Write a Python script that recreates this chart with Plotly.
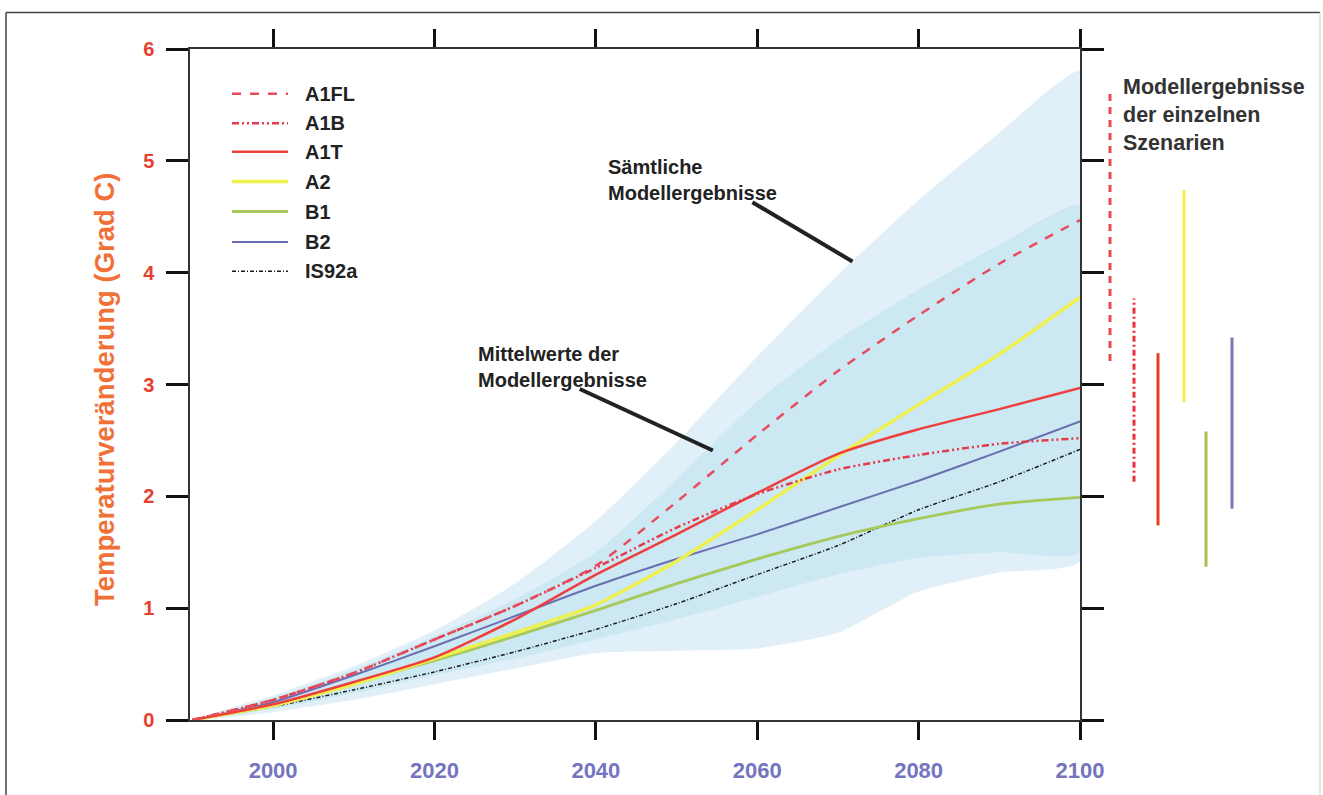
import plotly.graph_objects as go

# ---------------------------------------------------------------- data
years = [1990, 2000, 2010, 2020, 2030, 2040, 2050, 2060, 2070, 2080, 2090, 2100]

a1fl = [0, 0.18, 0.42, 0.72, 1.02, 1.38, 1.95, 2.55, 3.12, 3.62, 4.08, 4.47]
a1b = [0, 0.18, 0.42, 0.72, 1.02, 1.36, 1.72, 2.02, 2.24, 2.37, 2.47, 2.52]
a1t = [0, 0.14, 0.34, 0.56, 0.90, 1.30, 1.66, 2.03, 2.38, 2.60, 2.78, 2.97]
a2 = [0, 0.13, 0.32, 0.55, 0.78, 1.03, 1.42, 1.88, 2.36, 2.82, 3.27, 3.78]
b1 = [0, 0.13, 0.33, 0.53, 0.75, 0.98, 1.22, 1.44, 1.64, 1.80, 1.93, 1.99]
b2 = [0, 0.16, 0.40, 0.66, 0.93, 1.20, 1.44, 1.66, 1.90, 2.14, 2.40, 2.67]
is92a = [0, 0.12, 0.27, 0.43, 0.61, 0.81, 1.04, 1.30, 1.56, 1.88, 2.13, 2.42]

# envelope of all model results and of the model means
all_upper = [0, 0.22, 0.48, 0.80, 1.22, 1.78, 2.48, 3.25, 3.98, 4.65, 5.25, 5.80]
all_lower = [0, 0.07, 0.18, 0.32, 0.46, 0.60, 0.62, 0.64, 0.78, 1.15, 1.32, 1.42]
mean_upper = [0, 0.20, 0.45, 0.75, 1.08, 1.50, 2.15, 2.85, 3.40, 3.85, 4.25, 4.60]
mean_lower = [0, 0.10, 0.24, 0.40, 0.55, 0.72, 0.90, 1.10, 1.30, 1.45, 1.50, 1.50]

# 2100 ranges per scenario (low, high)
range_names = ["A1FL", "A1B", "A1T", "A2", "B1", "B2"]
range_low = [3.21, 2.13, 1.74, 2.84, 1.37, 1.89]
range_high = [5.62, 3.77, 3.28, 4.74, 2.58, 3.42]

series_names = ["A1FL", "A1B", "A1T", "A2", "B1", "B2", "IS92a"]
series_values = [a1fl, a1b, a1t, a2, b1, b2, is92a]

y_ticks = [0, 1, 2, 3, 4, 5, 6]
x_ticks = [2000, 2020, 2040, 2060, 2080, 2100]

# ---------------------------------------------------------------- styles
styles = {
    "A1FL": dict(color="#e94b5e", width=2.5, dash="9px,9px"),
    "A1B": dict(color="#e33b4a", width=2.5, dash="7px,3px,2px,3px,2px,3px"),
    "A1T": dict(color="#ef3e3e", width=2.5, dash="solid"),
    "A2": dict(color="#eef050", width=3.5, dash="solid"),
    "B1": dict(color="#a6c95a", width=2.8, dash="solid"),
    "B2": dict(color="#6a6eb0", width=2.0, dash="solid"),
    "IS92a": dict(color="#1a1a1a", width=1.5, dash="4px,2px,1px,2px"),
}
bar_styles = {
    "A1FL": dict(color="#e84a50", width=3, dash="7px,6px"),
    "A1B": dict(color="#e8343f", width=3, dash="6px,3px,2px,3px"),
    "A1T": dict(color="#e8401e", width=3, dash="solid"),
    "A2": dict(color="#f5f04a", width=3, dash="solid"),
    "B1": dict(color="#a8c050", width=3, dash="solid"),
    "B2": dict(color="#7a76b8", width=3, dash="solid"),
}
bar_slots = [10, 34, 58, 84, 106, 132]

W, H = 1323, 795
ML, MR, MT, MB = 190, 63, 49, 73
PW, PH = W - ML - MR, H - MT - MB


def px(xp):
    return (xp - ML) / PW


def py(yp):
    return (H - MB - yp) / PH


FONT = "Liberation Sans, Arial, Helvetica, sans-serif"

fig = go.Figure()

# shaded envelopes
fig.add_trace(go.Scatter(
    x=years + years[::-1], y=all_upper + all_lower[::-1],
    fill="toself", fillcolor="#e1f0f8", line=dict(width=0, shape="spline", smoothing=0.5),
    mode="lines", hoverinfo="skip", showlegend=False))
fig.add_trace(go.Scatter(
    x=years + years[::-1], y=mean_upper + mean_lower[::-1],
    fill="toself", fillcolor="#cce8f2", line=dict(width=0, shape="spline", smoothing=0.5),
    mode="lines", hoverinfo="skip", showlegend=False))

# scenario curves
draw_order = ["IS92a", "B1", "B2", "A2", "A1T", "A1B", "A1FL"]
for name in draw_order:
    vals = series_values[series_names.index(name)]
    st = styles[name]
    fig.add_trace(go.Scatter(
        x=years, y=vals, mode="lines", name=name,
        line=dict(color=st["color"], width=st["width"], dash=st["dash"],
                  shape="spline", smoothing=0.6),
        showlegend=False))

# 2100 range bars beside the plot
for i, name in enumerate(range_names):
    st = bar_styles[name]
    fig.add_trace(go.Scatter(
        x=[bar_slots[i], bar_slots[i]], y=[range_low[i], range_high[i]],
        xaxis="x2", yaxis="y", mode="lines",
        line=dict(color=st["color"], width=st["width"], dash=st["dash"]),
        showlegend=False, hoverinfo="skip"))

shapes = []
annotations = []

# legend drawn by hand
legend_rows = [94, 123.5, 152, 182, 212, 242.5, 272]
for name, yr in zip(series_names, legend_rows):
    st = styles[name]
    shapes.append(dict(type="line", xref="paper", yref="paper",
                       x0=px(232), x1=px(288), y0=py(yr), y1=py(yr),
                       line=dict(color=st["color"], width=st["width"], dash=st["dash"])))
    annotations.append(dict(text=name, xref="paper", yref="paper",
                            x=px(303), y=py(yr), xanchor="left", yanchor="middle",
                            showarrow=False,
                            font=dict(family=FONT, size=20, color="#222222", weight="bold")))

# pointer lines for the annotations
shapes.append(dict(type="line", xref="x", yref="y", x0=2059.4, y0=4.63, x1=2071.8, y1=4.10,
                   line=dict(color="#222222", width=4)))
shapes.append(dict(type="line", xref="x", yref="y", x0=2038.0, y0=2.96, x1=2054.5, y1=2.41,
                   line=dict(color="#222222", width=4)))

annotations.append(dict(text="Sämtliche<br>Modellergebnisse", xref="x", yref="y",
                        x=2041.3, y=4.83, xanchor="left", yanchor="middle", align="left",
                        showarrow=False,
                        font=dict(family=FONT, size=20, color="#222222", weight="bold")))
annotations.append(dict(text="Mittelwerte der<br>Modellergebnisse", xref="x", yref="y",
                        x=2025.2, y=3.16, xanchor="left", yanchor="middle", align="left",
                        showarrow=False,
                        font=dict(family=FONT, size=20, color="#222222", weight="bold")))
annotations.append(dict(text="Modellergebnisse<br>der einzelnen<br>Szenarien",
                        xref="paper", yref="paper", x=px(1121), y=py(115),
                        xanchor="left", yanchor="middle", align="left", showarrow=False,
                        font=dict(family=FONT, size=21.5, color="#333333", weight="bold")))

# y-axis title
annotations.append(dict(text="Temperaturveränderung (Grad C)", xref="paper", yref="paper",
                        x=px(105), y=py(391), textangle=-90, showarrow=False,
                        xanchor="center", yanchor="middle",
                        font=dict(family=FONT, size=27.5, color="#f07038", weight="bold")))

# outer frame
shapes.append(dict(type="line", xref="paper", yref="paper",
                   x0=px(6), x1=px(6), y0=py(12.5), y1=py(800),
                   line=dict(color="#444444", width=1.5)))
shapes.append(dict(type="line", xref="paper", yref="paper",
                   x0=px(6), x1=px(1320), y0=py(12.5), y1=py(12.5),
                   line=dict(color="#444444", width=1.5)))
shapes.append(dict(type="line", xref="paper", yref="paper",
                   x0=px(1320), x1=px(1320), y0=py(12.5), y1=py(800),
                   line=dict(color="#d0d0d0", width=1)))

fig.update_layout(
    width=W, height=H,
    margin=dict(l=ML, r=MR, t=MT, b=MB, pad=0),
    paper_bgcolor="white", plot_bgcolor="white",
    showlegend=False,
    shapes=shapes, annotations=annotations,
    xaxis=dict(domain=[0, px(1080)], range=[1989.7, 2100], tickvals=x_ticks,
               ticks="outside", ticklen=18, tickwidth=3, tickcolor="#111111",
               showline=True, linecolor="#333333", linewidth=1.5, mirror="ticks",
               showgrid=False, zeroline=False, ticklabelstandoff=12,
               tickfont=dict(family=FONT, size=22, color="#7474c0", weight="bold")),
    xaxis2=dict(domain=[px(1100), px(1250)], range=[0, 150], anchor="y",
                visible=False, showgrid=False, zeroline=False),
    yaxis=dict(range=[0, 6], tickvals=y_ticks,
               ticks="outside", ticklen=22, tickwidth=3, tickcolor="#111111",
               showline=True, linecolor="#333333", linewidth=1.5, mirror="ticks",
               showgrid=False, zeroline=False, ticklabelstandoff=8,
               tickfont=dict(family=FONT, size=20, color="#e8402e", weight="bold")),
)

fig.write_html("out.html")
